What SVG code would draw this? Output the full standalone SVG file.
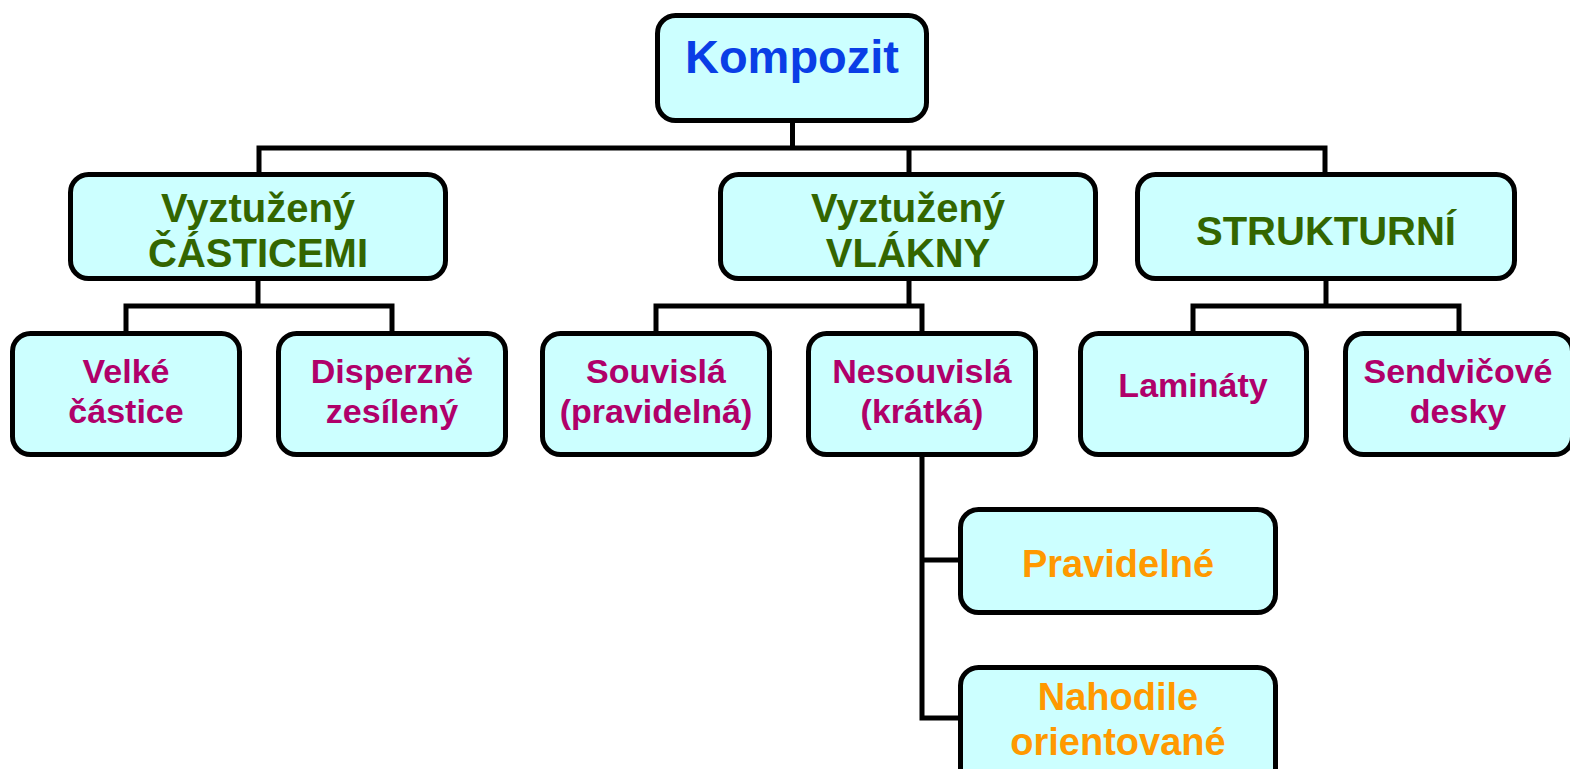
<svg xmlns="http://www.w3.org/2000/svg" width="1570" height="769" viewBox="0 0 1570 769">
<style>
.box{fill:#ccffff;stroke:#000;stroke-width:5}
.c{fill:none;stroke:#000;stroke-width:5}
text{font-family:"Liberation Sans",Arial,sans-serif;font-weight:bold;text-anchor:middle}
.t1{font-size:47px;fill:#0a3ee6}
.t2{font-size:40px;fill:#336600}
.t3{font-size:34px;fill:#b0006a}
.t4{font-size:38px;fill:#ff9900}
</style>
<rect width="1570" height="769" fill="#fff"/>
<g id="connectors">
<path class="c" d="M792.5 120V148M259 172V148H1325V172M909 148V172"/>
<path class="c" d="M258 281V306M126 331V306H392V331"/>
<path class="c" d="M909 281V306M656 331V306H922V331"/>
<path class="c" d="M1326 281V306M1193 331V306H1459V331"/>
<path class="c" d="M922 457V718H958M922 560H958"/>
</g>
<g id="kompozit"><rect class="box" x="657.5" y="15.5" width="269" height="105" rx="18"/><text class="t1" x="792" y="73">Kompozit</text></g>
<g id="castice"><rect class="box" x="70.5" y="174.5" width="375" height="104" rx="18"/><text class="t2" x="258" y="222">Vyztužený</text><text class="t2" x="258" y="267">ČÁSTICEMI</text></g>
<g id="vlakny"><rect class="box" x="720.5" y="174.5" width="375" height="104" rx="18"/><text class="t2" x="908" y="222">Vyztužený</text><text class="t2" x="908" y="267">VLÁKNY</text></g>
<g id="strukturni"><rect class="box" x="1137.5" y="174.5" width="377" height="104" rx="18"/><text class="t2" x="1326" y="245">STRUKTURNÍ</text></g>
<g id="velke"><rect class="box" x="12.5" y="333.5" width="227" height="121" rx="18"/><text class="t3" x="126" y="383">Velké</text><text class="t3" x="126" y="423">částice</text></g>
<g id="disperzne"><rect class="box" x="278.5" y="333.5" width="227" height="121" rx="18"/><text class="t3" x="392" y="383">Disperzně</text><text class="t3" x="392" y="423">zesílený</text></g>
<g id="souvisla"><rect class="box" x="542.5" y="333.5" width="227" height="121" rx="18"/><text class="t3" x="656" y="383">Souvislá</text><text class="t3" x="656" y="423">(pravidelná)</text></g>
<g id="nesouvisla"><rect class="box" x="808.5" y="333.5" width="227" height="121" rx="18"/><text class="t3" x="922" y="383">Nesouvislá</text><text class="t3" x="922" y="423">(krátká)</text></g>
<g id="laminaty"><rect class="box" x="1080.5" y="333.5" width="226" height="121" rx="18"/><text class="t3" x="1193" y="397">Lamináty</text></g>
<g id="sendvicove"><rect class="box" x="1345.5" y="333.5" width="227" height="121" rx="18"/><text class="t3" x="1458" y="383">Sendvičové</text><text class="t3" x="1458" y="423">desky</text></g>
<g id="pravidelne"><rect class="box" x="960.5" y="509.5" width="315" height="103" rx="18"/><text class="t4" x="1118" y="577">Pravidelné</text></g>
<g id="nahodile"><rect class="box" x="960.5" y="667.5" width="315" height="120" rx="18"/><text class="t4" x="1118" y="710">Nahodile</text><text class="t4" x="1118" y="755">orientované</text></g>
</svg>
